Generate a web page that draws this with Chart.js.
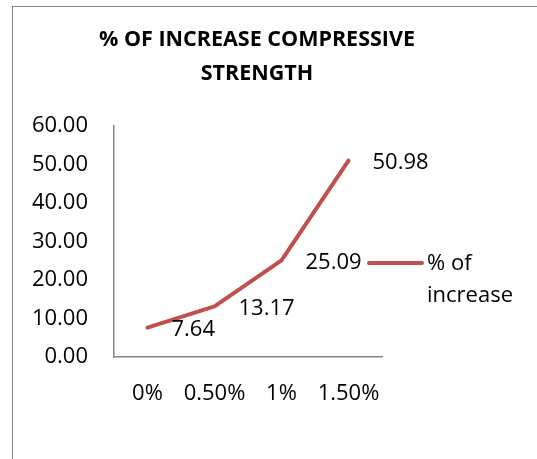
<!DOCTYPE html>
<html>
<head>
<meta charset="utf-8">
<script src="https://cdn.jsdelivr.net/npm/chart.js@4/dist/chart.umd.min.js"></script>
<style>
  html, body { margin: 0; padding: 0; background: #fff; overflow: hidden; }
  #frame { position: absolute; left: 12px; top: 6px; width: 700px; height: 700px; border: 1px solid #878787; }
  #wrap { position: absolute; left: 0; top: 0; width: 537px; height: 459px; }
</style>
</head>
<body>
<div id="frame"></div>
<div id="wrap"><canvas id="c" width="537" height="459"></canvas></div>
<script>
// Chart content
const categories = ['0%', '0.50%', '1%', '1.50%'];
const increaseValues = [7.64, 13.17, 25.09, 50.98];
const seriesLabel = '% of increase';
const legendLines = ['% of', 'increase'];
const titleLines = ['% OF INCREASE COMPRESSIVE', 'STRENGTH'];
const yMin = 0, yMax = 60, yStep = 10;

const FONT = "'Open Sans', 'Noto Sans', sans-serif";
const LINE_COLOR = '#C0504D';
const AXIS_COLOR = '#868686';

// Value labels to the right of each point
const valueLabels = {
  id: 'valueLabels',
  afterDatasetsDraw(chart) {
    const ctx = chart.ctx;
    const meta = chart.getDatasetMeta(0);
    const data = chart.data.datasets[0].data;
    ctx.save();
    ctx.font = '22px ' + FONT;
    ctx.fillStyle = '#000';
    ctx.textAlign = 'left';
    ctx.textBaseline = 'middle';
    meta.data.forEach((pt, i) => {
      ctx.fillText(data[i].toFixed(2), pt.x + 24, pt.y + 2);
    });
    ctx.restore();
  }
};

// Side legend as a layout box on the right
const sideLegend = {
  id: 'sideLegend',
  beforeInit(chart) {
    const box = {
      position: 'right',
      weight: 0,
      fullSize: false,
      options: {},
      isHorizontal() { return false; },
      getPadding() { return { left: 0, right: 0, top: 0, bottom: 0 }; },
      update(maxW, maxH) { this.width = 132; this.height = maxH; },
      draw() {
        const ctx = chart.ctx;
        const ds = chart.data.datasets[0];
        const y = chart.chartArea.top + 137;
        const x0 = this.left;
        ctx.save();
        ctx.strokeStyle = ds.borderColor;
        ctx.lineWidth = ds.borderWidth;
        ctx.lineCap = 'round';
        ctx.beginPath();
        ctx.moveTo(x0 - 13, y);
        ctx.lineTo(x0 + 40, y);
        ctx.stroke();
        ctx.font = '22px ' + FONT;
        ctx.fillStyle = '#000';
        ctx.textAlign = 'left';
        ctx.textBaseline = 'middle';
        legendLines.forEach((t, i) => ctx.fillText(t, x0 + 45, y + 1 + i * 32));
        ctx.restore();
      }
    };
    Chart.layouts.addBox(chart, box);
  }
};

new Chart(document.getElementById('c'), {
  type: 'line',
  data: {
    labels: categories,
    datasets: [{
      label: seriesLabel,
      data: increaseValues,
      borderColor: LINE_COLOR,
      backgroundColor: LINE_COLOR,
      borderWidth: 4,
      borderCapStyle: 'round',
      borderJoinStyle: 'round',
      pointRadius: 0,
      pointHoverRadius: 0,
      tension: 0,
      fill: false
    }]
  },
  options: {
    responsive: false,
    animation: false,
    events: [],
    layout: { padding: { left: 0, right: 23, top: 0, bottom: 0 } },
    plugins: {
      legend: { display: false },
      tooltip: { enabled: false },
      title: {
        display: true,
        text: titleLines,
        color: '#000',
        font: { family: FONT, size: 21.5, weight: 'bold', lineHeight: 34 / 21.5 },
        padding: { top: 23, bottom: 35 }
      }
    },
    scales: {
      x: {
        offset: true,
        grid: { display: false, drawTicks: false },
        border: { display: true, color: AXIS_COLOR, width: 1.5 },
        ticks: { color: '#000', font: { family: FONT, size: 22 }, padding: 24, maxRotation: 0, autoSkip: false },
        afterFit(scale) { scale.height = 102; }
      },
      y: {
        min: yMin,
        max: yMax,
        grid: { display: false, drawTicks: false },
        border: { display: true, color: AXIS_COLOR, width: 1.5 },
        ticks: {
          stepSize: yStep,
          color: '#000',
          font: { family: FONT, size: 22 },
          padding: 26,
          callback: v => Number(v).toFixed(2)
        },
        afterFit(scale) { scale.width = 114; }
      }
    }
  },
  plugins: [valueLabels, sideLegend]
});
</script>
</body>
</html>
